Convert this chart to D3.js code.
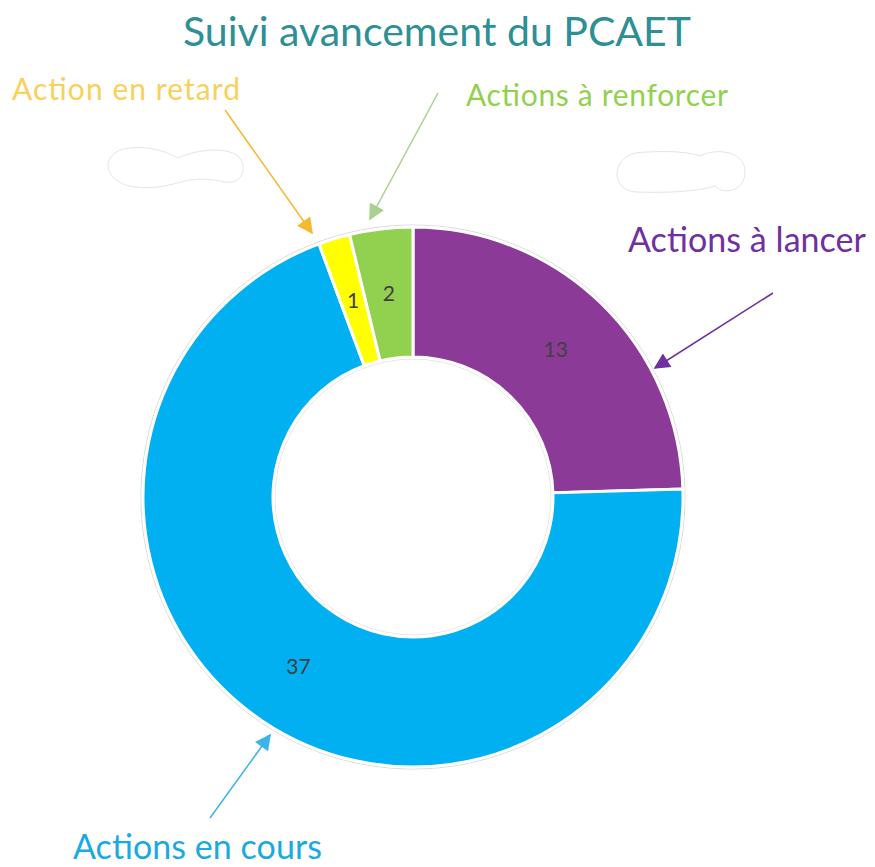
<!DOCTYPE html>
<html>
<head>
<meta charset="utf-8">
<script src="https://cdn.jsdelivr.net/npm/d3@7"></script>
<style>
  body { margin: 0; background: #fff; }
  svg { display: block; font-family: Lato, "Open Sans", sans-serif; }
</style>
</head>
<body>
<div id="chart"></div>
<script>
// chart data
var categories = ["Actions à lancer", "Actions en cours", "Action en retard", "Actions à renforcer"];
var values = [13, 37, 1, 2];
var colors = ["#8B3A98", "#00B0F0", "#FFFF00", "#92D050"];

var width = 875,
    height = 867;

var cx = 413, cy = 497,
    outerR = 270, innerR = 140;

var svg = d3.select("#chart")
    .append("svg")
    .attr("width", width)
    .attr("height", height);

// title
svg.append("text")
    .attr("x", 437)
    .attr("y", 46)
    .attr("text-anchor", "middle")
    .attr("fill", "#2E8F94")
    .attr("textLength", 508)
    .style("font-size", "41px")
    .text("Suivi avancement du PCAET");

// erased labels (white blobs)
svg.append("path")
    .attr("d", "M120,150 C140,144 165,150 178,158 C195,150 225,146 238,156 C248,166 243,185 225,182 C215,180 205,178 190,180 C172,184 155,190 135,187 C108,184 98,160 120,150 Z")
    .attr("fill", "#fff")
    .attr("stroke", "#e4e4e4")
    .attr("stroke-width", 1);
svg.append("path")
    .attr("d", "M635,153 C665,150 690,152 700,156 C715,148 745,150 745,172 C745,190 725,196 715,186 C695,192 665,193 635,192 C612,190 610,160 635,153 Z")
    .attr("fill", "#fff")
    .attr("stroke", "#e4e4e4")
    .attr("stroke-width", 1);

var g = svg.append("g")
    .attr("transform", "translate(" + cx + "," + cy + ")");

// faint outline round the ring
g.append("circle")
    .attr("r", outerR + 2)
    .attr("fill", "none")
    .attr("stroke", "#d9d9d9")
    .attr("stroke-width", 1);
g.append("circle")
    .attr("r", innerR - 2)
    .attr("fill", "none")
    .attr("stroke", "#e6e6e6")
    .attr("stroke-width", 1);

var pie = d3.pie()
    .sort(null)
    .value(function(d) { return d; });

var arc = d3.arc()
    .innerRadius(innerR)
    .outerRadius(outerR);

var labelArc = d3.arc()
    .innerRadius((innerR + outerR) / 2)
    .outerRadius((innerR + outerR) / 2);

var slices = pie(values);

g.selectAll("path.slice")
    .data(slices)
    .enter()
    .append("path")
    .attr("class", "slice")
    .attr("d", arc)
    .attr("fill", function(d, i) { return colors[i]; })
    .attr("stroke", "#fff")
    .attr("stroke-width", 3);

g.selectAll("text.value")
    .data(slices)
    .enter()
    .append("text")
    .attr("class", "value")
    .attr("transform", function(d) { return "translate(" + labelArc.centroid(d) + ")"; })
    .attr("text-anchor", "middle")
    .attr("dy", "0.35em")
    .attr("fill", "#404040")
    .style("font-size", "21px")
    .text(function(d) { return d.data; });

// callouts
var callouts = [
    { text: categories[0], x: 628, y: 252, size: 34, len: 238, color: "#7030A0", arrow: "#7030A0", x1: 773, y1: 293, x2: 655, y2: 368 },
    { text: categories[1], x: 73, y: 859, size: 34, len: 249, color: "#1BA9E4", arrow: "#3BB3E6", x1: 210, y1: 818, x2: 270, y2: 735 },
    { text: categories[2], x: 12, y: 100, size: 30, len: 228, color: "#F9D15A", arrow: "#F5B82E", x1: 225, y1: 110, x2: 312, y2: 233 },
    { text: categories[3], x: 466, y: 106, size: 30, len: 262, color: "#92D050", arrow: "#A9D18E", x1: 438, y1: 93, x2: 370, y2: 219 }
];

var defs = svg.append("defs");
callouts.forEach(function(c, i) {
    defs.append("marker")
        .attr("id", "head" + i)
        .attr("viewBox", "0 0 10 10")
        .attr("refX", 9)
        .attr("refY", 5)
        .attr("markerWidth", 20)
        .attr("markerHeight", 16)
        .attr("markerUnits", "userSpaceOnUse")
        .attr("orient", "auto")
        .append("path")
        .attr("d", "M0,0 L10,5 L0,10 Z")
        .attr("fill", c.arrow);
});

callouts.forEach(function(c, i) {
    svg.append("line")
        .attr("x1", c.x1).attr("y1", c.y1)
        .attr("x2", c.x2).attr("y2", c.y2)
        .attr("stroke", c.arrow)
        .attr("stroke-width", 1.5)
        .attr("marker-end", "url(#head" + i + ")");
    svg.append("text")
        .attr("x", c.x)
        .attr("y", c.y)
        .attr("fill", c.color)
        .attr("textLength", c.len)
        .style("font-size", c.size + "px")
        .text(c.text);
});
</script>
</body>
</html>
